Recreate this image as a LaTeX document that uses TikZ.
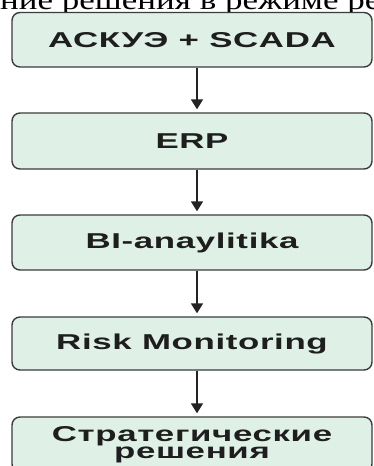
\documentclass[tikz,border=0pt]{standalone}
\usepackage{fontspec}
\usetikzlibrary{arrows.meta}
\newfontfamily\boxfont{Liberation Sans}[FakeStretch=1.62,LetterSpace=3]
\newfontfamily\topfont{Liberation Serif}[FakeStretch=1.25]
\definecolor{boxfill}{RGB}{223,240,230}
\definecolor{boxline}{RGB}{60,60,60}
\definecolor{boxtext}{RGB}{30,30,30}
\definecolor{arrowcol}{RGB}{35,35,35}
\tikzset{
  stage/.style={draw=boxline, line width=1.4pt, fill=boxfill, rounded corners=8pt,
    minimum width=360pt, inner sep=0pt, text=boxtext,
    font=\boxfont\bfseries\fontsize{21.5}{17.5}\selectfont},
  flow/.style={draw=arrowcol, line width=1.8pt, -{Triangle[width=12pt,length=10pt]}, shorten >=3pt}
}
\begin{document}
\begin{tikzpicture}[x=1pt,y=-1pt]
\useasboundingbox (0,0) rectangle (374,466);
\fill[white] (0,0) rectangle (374,466);
\node[anchor=base west, inner sep=0pt, font=\topfont\fontsize{28}{28}\selectfont] (title) at (0,9.5) {ние решения в режиме ре};
\node[stage, minimum height=54.5pt] (b1) at (192,39.75) {АСКУЭ + SCADA};
\node[stage, minimum height=56pt] (b2) at (192,141) {ERP};
\node[stage, minimum height=55pt] (b3) at (192,242.5) {BI-anaylitika};
\node[stage, minimum height=53pt] (b4) at (192,343.5) {Risk Monitoring};
\node[stage, minimum height=55pt, align=center] (b5) at (192,444.5) {Стратегические\\решения};
\draw[flow] ([xshift=5pt]b1.south) -- ([xshift=5pt]b2.north);
\draw[flow] ([xshift=5pt]b2.south) -- ([xshift=5pt]b3.north);
\draw[flow] ([xshift=5pt]b3.south) -- ([xshift=5pt]b4.north);
\draw[flow] ([xshift=5pt]b4.south) -- ([xshift=5pt]b5.north);
\end{tikzpicture}
\end{document}
